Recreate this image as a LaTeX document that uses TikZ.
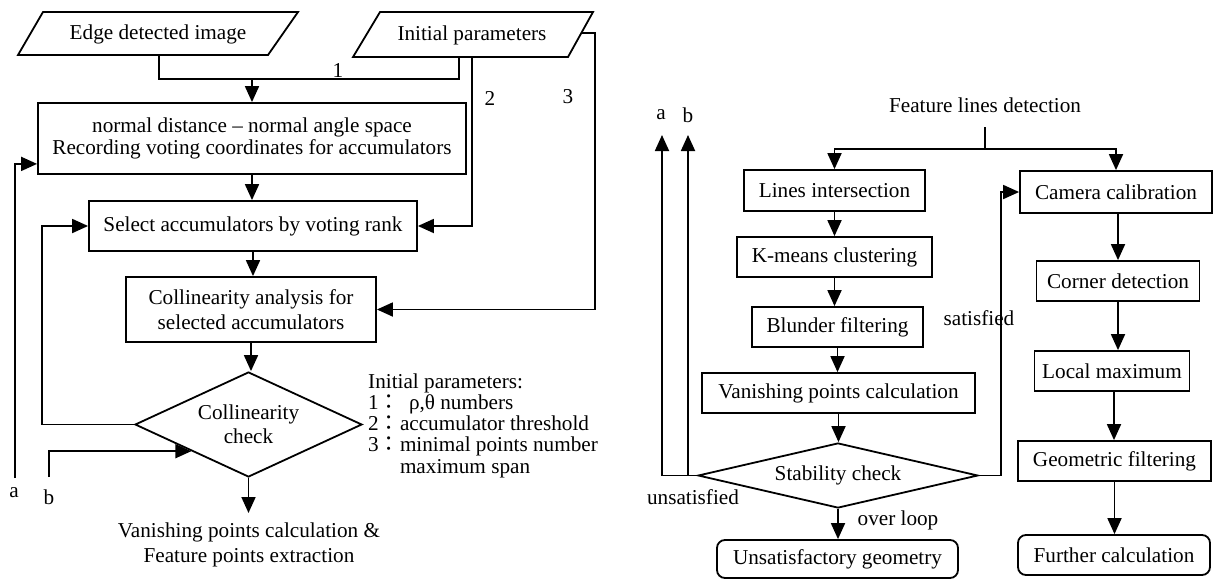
\documentclass[tikz,border=0pt]{standalone}
\usepackage{fontspec}
\setmainfont{Liberation Serif}
\newfontfamily\cjkfnt{Noto Sans CJK TC}
\usetikzlibrary{arrows.meta,shapes.geometric}
\newcommand{\diagfont}{\fontsize{21.2}{24}\selectfont}
\newcommand{\fwc}{{\cjkfnt ：}}
\begin{document}
\begin{tikzpicture}[x=1pt,y=-1pt,
  ln/.style={line width=1.8pt},
  arr/.style={ln,-{Triangle[length=16pt,width=14pt]}},
  bx/.style={draw,line width=1.8pt,inner sep=0pt,align=center,font=\diagfont},
  rbx/.style={bx,rounded corners=8pt},
  dia/.style={draw,diamond,line width=1.8pt,inner sep=0pt,align=center,font=\diagfont},
  lbl/.style={inner sep=0pt,font=\diagfont}]
\useasboundingbox (0,0) rectangle (1213,579);

% ---------- left flowchart ----------
\draw[ln] (18,55) -- (43,12) -- (298,12) -- (268,55) -- cycle;
\node[lbl] (edge) at (158,34) {Edge detected image};
\draw[ln] (353,57) -- (380,12) -- (593,12) -- (568,57) -- cycle;
\node[lbl] (init) at (472,35) {Initial parameters};
\coordinate (edgeOut) at (159,55);
\coordinate (initOut1) at (459,57);
\coordinate (initOut2) at (472,57);
\coordinate (initOut3) at (581,33);

\node[bx,minimum width=428pt,minimum height=71pt,font=\fontsize{21.2}{22}\selectfont] (b1) at (252,138.5)
  {normal distance -- normal angle space\\Recording voting coordinates for accumulators};
\node[bx,minimum width=328pt,minimum height=50pt] (sel) at (253,226) {Select accumulators by voting rank};
\node[bx,minimum width=250pt,minimum height=65pt,font=\fontsize{21.2}{25}\selectfont] (col) at (251,309.5)
  {Collinearity analysis for\\selected accumulators};
\node[dia,minimum width=227pt,minimum height=105pt,aspect=2.16] (cc) at (248.5,424.5) {Collinearity\\check};
\node[lbl,align=center,font=\fontsize{21.2}{25}\selectfont] (out) at (249,544.5)
  {Vanishing points calculation \&\\Feature points extraction};

\node[lbl,align=left,anchor=west,font=\fontsize{21.2}{21.3}\selectfont] (legend) at (368,425.5)
  {Initial parameters:\\
   1\fwc\hspace{9pt}ρ,θ numbers\\
   2\fwc accumulator threshold\\
   3\fwc minimal points number\\
   \hphantom{3\fwc}maximum span};

\node[lbl] (l1) at (338,70) {1};
\node[lbl] (l2) at (490,98) {2};
\node[lbl] (l3) at (568,97) {3};
\node[lbl] (la) at (14,493) {a};
\node[lbl] (lb) at (49,497) {b};

\draw[ln] (edgeOut) -- (159,79) -- (459,79) -- (initOut1);
\draw[arr] (b1.north |- 0,79) -- (b1.north);
\draw[arr] (b1.south) -- (b1.south |- sel.north);
\draw[arr] (sel.south) -- (sel.south |- col.north);
\draw[arr] (col.south) -- (col.south |- cc.north);
\draw[arr] (initOut2) |- (sel.east);
\draw[arr] (initOut3) -- (595,33) |- (col.east);
\draw[arr] (cc.west) -- (42,424.5) |- (sel.west);
\coordinate (aIn) at (15,478);
\coordinate (bIn) at (49,477);
\draw[arr] (aIn) |- ([yshift=11pt]b1.south west);
\draw[arr] (bIn) |- (cc.south west);
\draw[arr] (cc.south) -- (cc.south |- 0,513);

% ---------- right flowchart ----------
\node[lbl] (fld) at (985,105) {Feature lines detection};
\node[bx,minimum width=181pt,minimum height=41pt] (li) at (834.5,190.5) {Lines intersection};
\node[bx,minimum width=195pt,minimum height=40pt] (km) at (834.5,257) {K-means clustering};
\node[bx,minimum width=171pt,minimum height=40pt] (bf) at (837.5,327) {Blunder filtering};
\node[bx,minimum width=273pt,minimum height=40pt] (vp) at (838.5,393) {Vanishing points calculation};
\node[dia,minimum width=280pt,minimum height=65pt,aspect=4.3] (sc) at (838,475.5) {Stability check};
\node[rbx,minimum width=241pt,minimum height=38pt] (ug) at (837.5,559) {Unsatisfactory geometry};

\node[bx,minimum width=192pt,minimum height=42pt] (cam) at (1116,192) {Camera calibration};
\node[bx,minimum width=163pt,minimum height=40pt] (cd) at (1118,281) {Corner detection};
\node[bx,minimum width=155pt,minimum height=40pt] (lm) at (1112,371) {Local maximum};
\node[bx,minimum width=193pt,minimum height=40pt] (gf) at (1114.5,461) {Geometric filtering};
\node[rbx,minimum width=192pt,minimum height=40pt] (fc) at (1114,555) {Further calculation};

\node[lbl] (ra) at (661,115) {a};
\node[lbl] (rb) at (688,115) {b};
\node[lbl] (uns) at (693,497) {unsatisfied};
\node[lbl] (sat) at (979,318) {satisfied};
\node[lbl] (ovl) at (898,520) {over loop};

\coordinate (stem) at (985,127);
\coordinate (br) at (985,149);
\draw[ln] (stem) -- (br);
\draw[arr] (br) -| (li.north);
\draw[arr] (br) -| (cam.north);
\draw[arr] (li.south) -- (li.south |- km.north);
\draw[arr] (km.south) -- (km.south |- bf.north);
\draw[arr] (bf.south) -- (bf.south |- vp.north);
\draw[arr] (vp.south) -- (vp.south |- sc.north);
\draw[arr] (sc.south) -- (sc.south |- ug.north);
\coordinate (aOut) at (662,135);
\coordinate (bOut) at (688,135);
\draw[arr] (sc.west) -| (aOut);
\draw[arr] (bOut |- sc.west) -- (bOut);
\draw[arr] (sc.east) -- (1001,475.5) |- (cam.west);
\draw[arr] (cam.south -| cd.north) -- (cd.north);
\draw[arr] (cd.south) -- (cd.south |- lm.north);
\draw[arr] (lm.south -| 1114,0) -- (gf.north -| 1114,0);
\draw[arr] (gf.south) -- (gf.south |- fc.north);
\end{tikzpicture}
\end{document}
